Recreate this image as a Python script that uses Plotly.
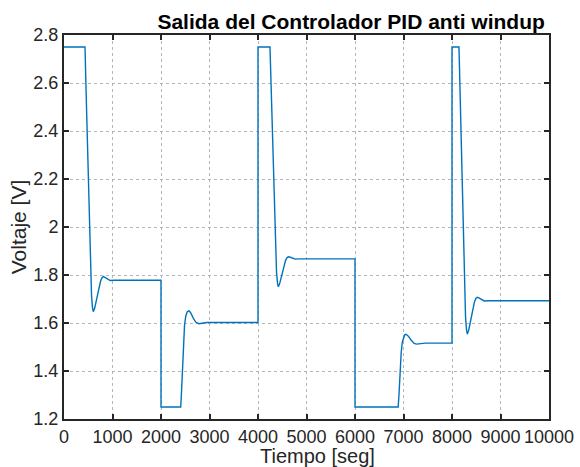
import plotly.graph_objects as go

# Salida del controlador PID con anti-windup: tramos entre cambios de referencia
tramo1_t = [0, 433, 463, 493, 523, 548, 568, 588, 605, 633, 673, 713, 753, 783, 811, 853, 903, 953, 1033, 2000]
tramo1_v = [2.75, 2.75, 2.507, 2.254, 2.000, 1.812, 1.713, 1.663, 1.647, 1.662, 1.698, 1.742, 1.774, 1.789,
            1.793, 1.789, 1.782, 1.777, 1.778, 1.778]

tramo2_t = [2000, 2406, 2420, 2435, 2450, 2465, 2485, 2510, 2540, 2577, 2620, 2670, 2720, 2780, 2850, 2950, 4000]
tramo2_v = [1.25, 1.25, 1.300, 1.380, 1.460, 1.530, 1.590, 1.628, 1.646, 1.651, 1.640, 1.618, 1.603, 1.597,
            1.599, 1.602, 1.602]

tramo3_t = [4000, 4247, 4277, 4307, 4337, 4362, 4382, 4402, 4419, 4447, 4487, 4527, 4567, 4597, 4625, 4667,
            4717, 4767, 4847, 6000]
tramo3_v = [2.75, 2.75, 2.530, 2.300, 2.071, 1.901, 1.812, 1.766, 1.751, 1.764, 1.795, 1.832, 1.860, 1.872,
            1.876, 1.874, 1.869, 1.866, 1.867, 1.867]

tramo4_t = [6000, 6890, 6905, 6920, 6935, 6952, 6975, 7000, 7025, 7052, 7100, 7160, 7220, 7270, 7340, 7450, 8000]
tramo4_v = [1.25, 1.25, 1.295, 1.360, 1.420, 1.475, 1.520, 1.542, 1.551, 1.553, 1.545, 1.528, 1.515, 1.512,
            1.514, 1.516, 1.516]

tramo5_t = [8000, 8144, 8174, 8204, 8234, 8259, 8279, 8299, 8316, 8344, 8384, 8424, 8464, 8494, 8522, 8564,
            8614, 8664, 8744, 10000]
tramo5_v = [2.75, 2.75, 2.487, 2.212, 1.937, 1.733, 1.626, 1.572, 1.554, 1.570, 1.608, 1.655, 1.689, 1.703,
            1.707, 1.704, 1.697, 1.692, 1.693, 1.693]

x_ticks = [0, 1000, 2000, 3000, 4000, 5000, 6000, 7000, 8000, 9000, 10000]
y_ticks = [1.2, 1.4, 1.6, 1.8, 2.0, 2.2, 2.4, 2.6, 2.8]

tiempo = tramo1_t + tramo2_t + tramo3_t + tramo4_t + tramo5_t
voltaje = tramo1_v + tramo2_v + tramo3_v + tramo4_v + tramo5_v

FONT = "Liberation Sans, Arial, sans-serif"
AXIS_COLOR = "#262626"

fig = go.Figure(
    go.Scatter(
        x=tiempo,
        y=voltaje,
        mode="lines",
        line=dict(color="#0072BD", width=1.4),
        showlegend=False,
        hoverinfo="skip",
    )
)

axis_common = dict(
    automargin=False,
    showline=True,
    linecolor=AXIS_COLOR,
    linewidth=2,
    mirror="ticks",
    ticks="inside",
    ticklen=5,
    tickwidth=2,
    tickcolor=AXIS_COLOR,
    showgrid=True,
    gridcolor="#b5b5b5",
    gridwidth=1,
    griddash="dot",
    zeroline=False,
    tickfont=dict(family=FONT, size=18, color=AXIS_COLOR),
)

fig.update_xaxes(
    range=[0, 10000],
    tickvals=x_ticks,
    ticktext=[str(v) for v in x_ticks],
    **axis_common,
)
fig.update_yaxes(
    range=[1.2, 2.8],
    tickvals=y_ticks,
    ticktext=[f"{v:g}" for v in y_ticks],
    title=dict(text="Voltaje [V]", font=dict(family=FONT, size=21, color=AXIS_COLOR), standoff=1),
    **axis_common,
)

# Etiqueta del eje de tiempo
fig.add_annotation(
    text="Tiempo [seg]",
    xref="paper",
    yref="paper",
    x=0.522,
    y=-0.064,
    xanchor="center",
    yanchor="top",
    showarrow=False,
    borderpad=0,
    font=dict(family=FONT, size=20, color=AXIS_COLOR),
)

fig.update_layout(
    width=580,
    height=467,
    margin=dict(l=64, r=31, t=35, b=48),
    paper_bgcolor="white",
    plot_bgcolor="white",
    title=dict(
        text="Salida del Controlador PID anti windup",
        font=dict(family=FONT, size=21, color="black", weight="bold"),
        x=0.592,
        xanchor="center",
        xref="paper",
        y=1 - 22 / 467,
        yref="container",
        yanchor="middle",
    ),
)

fig.write_html("out.html")
